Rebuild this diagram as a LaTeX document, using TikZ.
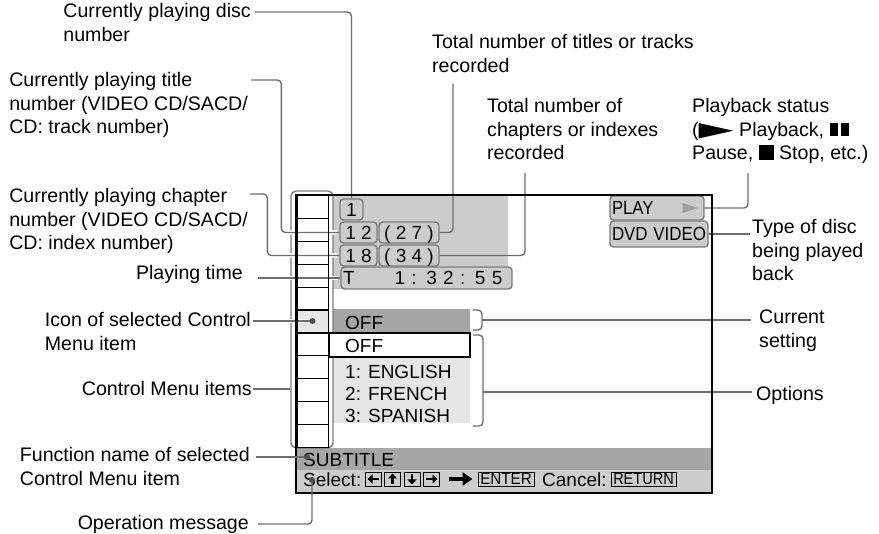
\documentclass[tikz,border=0pt]{standalone}
\usepackage{graphicx}
\usepackage{fontspec}
\setmainfont{Liberation Sans}
\newfontfamily\symfont{DejaVu Sans}
\usetikzlibrary{arrows.meta}

\definecolor{leadgray}{HTML}{6E6E6E}
\definecolor{tagline}{HTML}{7C7C7C}
\definecolor{scrgray}{HTML}{CCCCCC}
\definecolor{bardark}{HTML}{A6A6A6}
\definecolor{barlight}{HTML}{CDCDCD}
\definecolor{optgray}{HTML}{E6E6E6}

\newcommand{\lbltext}[1]{\begin{tabular}[t]{@{}l@{}}#1\end{tabular}}

\begin{document}
\begin{tikzpicture}[x=1pt, y=-1pt,
                    lbl/.style = {inner sep=0pt, font=\fontsize{19.6}{23.5}\selectfont},
                    scrtext/.style = {inner sep=0pt, font=\fontsize{19}{22}\selectfont},
                    tag/.style = {draw=tagline, fill=scrgray, line width=1.4pt, rounded corners=3.5pt,
                                  inner xsep=2pt, inner ysep=0pt, text height=13.6pt, text depth=0pt,
                                  minimum height=21pt, font=\fontsize{19}{22}\selectfont},
                    cell/.style = {draw=black, line width=1.2pt, minimum width=31pt, minimum height=22.9pt,
                                   inner sep=0pt, anchor=north west},
                    keybox/.style = {draw=black, line width=0.9pt, minimum width=16pt, minimum height=14pt, inner sep=0pt},
                    keytext/.style = {keybox, font=\fontsize{16.5}{17}\selectfont, text height=11.8pt, text depth=0pt},
                    leader/.style = {draw=leadgray, line width=1.4pt, rounded corners=4pt},
                    halo/.style = {preaction={draw=white, line width=4.5pt, shorten >=2pt}},
                    keyarrow/.style = {line width=2.6pt, -{Triangle[length=5pt, width=9pt]}},
                    bigarrow/.style = {line width=4.5pt, -{Triangle[length=10pt, width=13pt]}},
                    tipdot/.style = {circle, fill=leadgray!70!black, inner sep=0pt, minimum size=6pt}]
  \useasboundingbox (0,0) rectangle (879,534);

  % screen areas
  \fill[scrgray] (333,195) rectangle (508,289);
  \fill[bardark] (333,309) rectangle (470,333);
  \fill[optgray] (333,357) rectangle (470,423);
  \fill[optgray] (297,309.5) rectangle (328,332.4);
  \fill[bardark] (296,448) rectangle (712,470);
  \fill[barlight] (296,470) rectangle (712,493);

  \node[draw=tagline, line width=1.4pt, rounded corners=5pt,
        minimum width=42pt, minimum height=257pt] (menu) at (312,319.5) {};

  % labels
  \node[lbl, anchor=base east] (lDisc) at (251,18) {\lbltext{Currently playing disc\\number}};
  \node[lbl, anchor=base east] (lTitle) at (248,87) {\lbltext{Currently playing title\\number (VIDEO CD/SACD/\\CD: track number)}};
  \node[lbl, anchor=base east] (lChap) at (248,203) {\lbltext{Currently playing chapter\\number (VIDEO CD/SACD/\\CD: index number)}};
  \node[lbl, anchor=base east] (lTime) at (243,280) {Playing time};
  \node[lbl, anchor=base east] (lIcon) at (251,327) {\lbltext{Icon of selected Control\\Menu item}};
  \node[lbl, anchor=base east] (lItems) at (252,396) {Control Menu items};
  \node[lbl, anchor=base east] (lFunc) at (250,462) {\lbltext{Function name of selected\\Control Menu item}};
  \node[lbl, anchor=base east] (lOp) at (249,530) {Operation message};
  \node[lbl, anchor=base west] (lTotT) at (432,49) {\lbltext{Total number of titles or tracks\\recorded}};
  \node[lbl, anchor=base west] (lTotC) at (487,113) {\lbltext{Total number of\\chapters or indexes\\recorded}};
  \node[lbl, anchor=base west] (lStat) at (692,113) {\lbltext{Playback status\\(\resizebox{35pt}{13pt}{\symfont ▶} Playback, \rule{8pt}{13pt}\hspace{3pt}\rule{8pt}{13pt}\\Pause, \rule{15pt}{15pt} Stop, etc.)}};
  \node[lbl, anchor=base west] (lType) at (752,234) {\lbltext{Type of disc\\being played\\back}};
  \node[lbl, anchor=base west] (lCur) at (759,324) {\lbltext{Current\\setting}};
  \node[lbl, anchor=base west] (lOpt) at (756,401) {Options};

  % screen items
  \node[tag, minimum width=23pt] (tDisc) at (351.5,209.5) {1};
  \node[tag, minimum width=37pt] (tTitle) at (358.5,232.5) {1 2};
  \node[tag, minimum width=60pt] (t27) at (409,232.5) {( 2 7 )};
  \node[tag, minimum width=37pt] (tChap) at (358.5,255.5) {1 8};
  \node[tag, minimum width=60pt] (t34) at (409,255.5) {( 3 4 )};
  \node[tag, minimum height=22pt, text width=167pt, align=left] (tTime) at (426.5,278) {T\hspace{40pt}1 : 3 2 : 5 5};
  \node[tag, minimum height=24pt, text width=90pt, align=left] (tPlay) at (657,208) {\scalebox{0.88}[1]{PLAY}};
  \node[tag, minimum height=26pt, text width=94pt, align=left] (tDvd) at (659,234) {\scalebox{0.89}[1]{DVD VIDEO}};
  \fill[gray!75] ([shift={(-22,-5)}]tPlay.east) -- ([shift={(-7,0)}]tPlay.east) -- ([shift={(-22,5)}]tPlay.east) -- cycle;

  \draw[line width=1.3pt, fill=white] (329,333) rectangle (470,357);
  \node[scrtext, anchor=base west] (sCur) at (345,330) {OFF};
  \node[scrtext, anchor=base west] (sOff) at (345,353) {OFF};
  \node[scrtext, anchor=base west] (sEng) at (345,379) {1: ENGLISH};
  \node[scrtext, anchor=base west] (sFre) at (345,401) {2: FRENCH};
  \node[scrtext, anchor=base west] (sSpa) at (345,423) {3: SPANISH};
  \node[scrtext, anchor=base west] (sSub) at (303,467) {SUBTITLE};
  \node[scrtext, anchor=base west] (sSel) at (303,487) {Select:};
  \node[scrtext, anchor=base west] (sCan) at (542,487) {Cancel:};

  \coordinate (iconpt) at (312.5,321);
  \coordinate (curB) at (482,320);
  \coordinate (optB) at (483,392);

  % leaders
  \draw[leader] ([shift={(4,-6)}]lDisc.base east) -| (tDisc.north);
  \draw[leader, halo] ([shift={(3,-7)}]lTitle.base east) -| ([xshift=-58pt]tTitle.west) -- (tTitle.west);
  \draw[leader, halo] ([shift={(2,-9)}]lChap.base east) -| ([xshift=-72pt]tChap.west) -- (tChap.west);
  \draw[leader, halo] ([xshift=15pt]lTime.base east |- tTime.west) -- (tTime.west);
  \draw[leader, halo] ([shift={(2,-6)}]lIcon.base east) -- (iconpt);
  \draw[leader] ([shift={(1,-7)}]lItems.base east) -- ([shift={(0,-7)}]lItems.base -| menu.west);
  \draw[leader] ([shift={(21,4)}]lTotT.south west) |- (t27.east);
  \draw[leader] ([shift={(38,6)}]lTotC.south west) |- (t34.east);
  \draw[leader] ([shift={(56,6)}]lStat.south west) |- (tPlay.east);
  \draw[leader] (tDvd.east) -- ([xshift=-2pt]tDvd.east -| lType.west);
  \draw[leader] (473,310) -- (482,310) -- (482,330) -- (473,330);
  \draw[leader] (curB) -- ([xshift=-8pt]curB -| lCur.west);
  \draw[leader] (473,335) -- (483,335) -- (483,426) -- (473,426);
  \draw[leader] (optB) -- ([xshift=-4pt]optB -| lOpt.west);

  % control menu column
  \foreach \i in {0,...,10}
    \node[cell] (c\i) at (297,{195+22.9*\i}) {};
  \node[tipdot] (iDot) at (iconpt) {};

  \draw[line width=2pt] (296,195) rectangle (712,493);

  % operation message line
  \node[keybox] (kL) at (373.5,479) {};
  \node[keybox] (kU) at (392.5,479) {};
  \node[keybox] (kD) at (412,479) {};
  \node[keybox] (kR) at (431.5,479) {};
  \draw[keyarrow] ([xshift=5.5pt]kL.center) -- ([xshift=-6pt]kL.center);
  \draw[keyarrow] ([yshift=-5pt]kU.center) -- ([yshift=5.5pt]kU.center);
  \draw[keyarrow] ([yshift=5pt]kD.center) -- ([yshift=-5.5pt]kD.center);
  \draw[keyarrow] ([xshift=-5.5pt]kR.center) -- ([xshift=6pt]kR.center);
  \node[keytext, minimum width=56pt] (kEnter) at (506,479) {\scalebox{0.92}[1]{ENTER}};
  \node[keytext, minimum width=65pt] (kRet) at (643.5,479) {\scalebox{0.88}[1]{RETURN}};
  \draw[bigarrow] ([xshift=9pt]kR.east) -- ([xshift=-5pt]kEnter.west);

  \node[tipdot] (fDot) at (307,457) {};
  \node[tipdot] (sDot) at (312,480) {};
  \draw[leader] ([shift={(6,-5)}]lFunc.base east) -- (fDot);
  \draw[leader] ([shift={(9,-6)}]lOp.base east) -| (sDot);
\end{tikzpicture}
\end{document}
